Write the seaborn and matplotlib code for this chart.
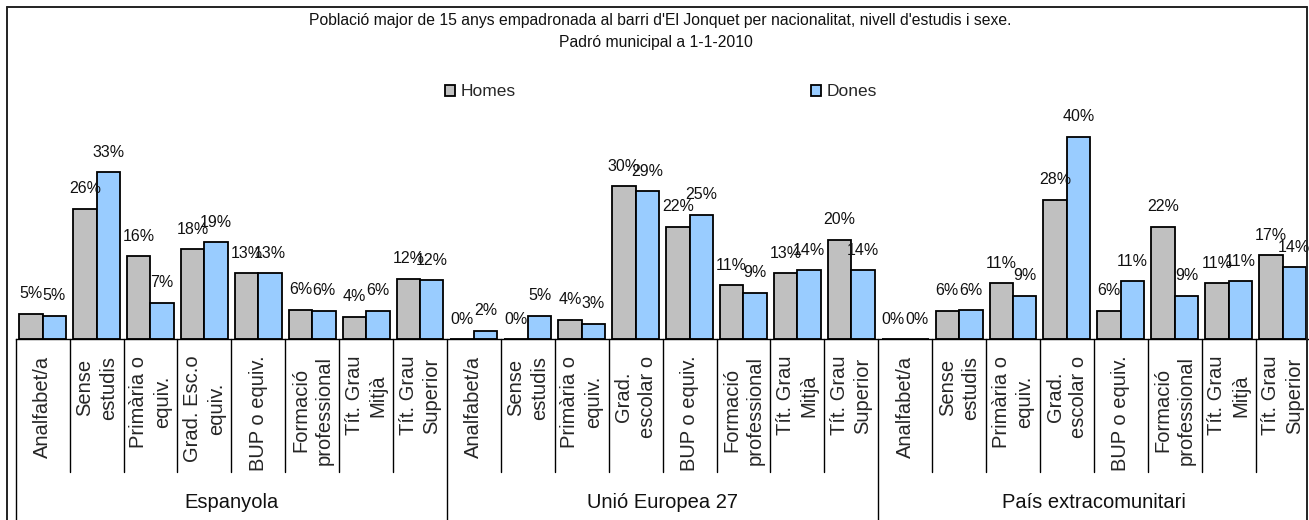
import matplotlib
matplotlib.use("Agg")
import matplotlib.pyplot as plt
import seaborn as sns
import pandas as pd
from matplotlib.lines import Line2D
from matplotlib.transforms import blended_transform_factory

# ---------------- data ----------------
title_lines = ["Població major de 15 anys empadronada al barri d'El Jonquet per nacionalitat, nivell d'estudis i sexe.",
               "Padró municipal a 1-1-2010"]
series = ["Homes", "Dones"]
groups = ["Espanyola", "Unió Europea 27", "País extracomunitari"]
levels_esp = ["Analfabet/a", "Sense\nestudis", "Primària o\nequiv.", "Grad. Esc.o\nequiv.",
              "BUP o equiv.", "Formació\nprofessional", "Tít. Grau\nMitjà", "Tít. Grau\nSuperior"]
levels_other = ["Analfabet/a", "Sense\nestudis", "Primària o\nequiv.", "Grad.\nescolar o",
                "BUP o equiv.", "Formació\nprofessional", "Tít. Grau\nMitjà", "Tít. Grau\nSuperior"]

homes_esp = [5.0, 25.8, 16.4, 17.8, 13.0, 5.8, 4.4, 11.9]
dones_esp = [4.6, 33.0, 7.2, 19.1, 13.0, 5.6, 5.6, 11.6]
homes_ue = [0.0, 0.0, 3.8, 30.2, 22.2, 10.6, 13.0, 19.6]
dones_ue = [1.6, 4.6, 3.0, 29.2, 24.6, 9.2, 13.6, 13.6]
homes_ext = [0.0, 5.6, 11.0, 27.6, 5.6, 22.2, 11.0, 16.6]
dones_ext = [0.0, 5.7, 8.6, 40.0, 11.4, 8.6, 11.4, 14.2]

colors = ["#C0C0C0", "#99CCFF"]

# ---------------- build long table ----------------
group_levels = [levels_esp, levels_other, levels_other]
group_homes = [homes_esp, homes_ue, homes_ext]
group_dones = [dones_esp, dones_ue, dones_ext]
rows = []
keys = []
tick_labels = []
for g, levs, hv, dv in zip(groups, group_levels, group_homes, group_dones):
    for lev, h, d in zip(levs, hv, dv):
        key = f"{g}|{lev}"
        keys.append(key)
        tick_labels.append(lev)
        rows.append({"cat": key, "sexe": series[0], "val": h})
        rows.append({"cat": key, "sexe": series[1], "val": d})
df = pd.DataFrame(rows)

# ---------------- plot ----------------
sns.set_style("white")
plt.rcParams["font.family"] = ["Liberation Sans", "DejaVu Sans"]

W, H = 1309, 520
fig = plt.figure(figsize=(W / 100, H / 100), dpi=100)
ax_left, ax_right = 15.7 / W, 1309.5 / W
ax_bottom, ax_top = (H - 339) / H, (H - 100) / H
ax = fig.add_axes([ax_left, ax_bottom, ax_right - ax_left, ax_top - ax_bottom])

sns.barplot(data=df, x="cat", y="val", hue="sexe", order=keys, hue_order=series,
            palette=colors, width=0.87, edgecolor="black", linewidth=1.3,
            saturation=1, ax=ax, legend=True)

ax.set_xlim(-0.5, len(keys) - 0.5)
ax.set_ylim(0, 47.3)
ax.set_xlabel("")
ax.set_ylabel("")
ax.set_yticks([])
for s in ["left", "right", "top"]:
    ax.spines[s].set_visible(False)
ax.spines["bottom"].set_color("black")
ax.spines["bottom"].set_linewidth(1.0)

# value labels
for cont in ax.containers:
    vals = [b.get_height() for b in cont]
    ax.bar_label(cont, labels=[f"{round(v):d}%" for v in vals], padding=9,
                 fontsize=11.5, color="#111111")

# category tick labels
ax.set_xticks(range(len(keys)))
ax.set_xticklabels(tick_labels, rotation=90, fontsize=14.5, linespacing=1.3,
                   multialignment="center", va="top", ha="center")
ax.tick_params(axis="x", length=0, pad=12)

# separators
trans = blended_transform_factory(ax.transData, ax.transAxes)
ax_h_px = 339 - 100
n_per = len(levels_esp)
for i in range(len(keys) + 1):
    x = i - 0.5
    if i % n_per == 0:
        y0 = -(H - 339 + 5) / ax_h_px
        lw = 1.0
    else:
        y0 = -133 / ax_h_px
        lw = 1.0
    ax.add_line(Line2D([x, x], [0, y0], transform=trans, color="black",
                       linewidth=lw, clip_on=False))

# group labels
for gi, g in enumerate(groups):
    xc = gi * n_per + (n_per - 1) / 2
    ax.text(xc, -(503 - 339) / ax_h_px, g, transform=trans, ha="center", va="center",
            fontsize=14.5, color="#111111")

# legend
handles, labels = ax.get_legend_handles_labels()
ax.get_legend().remove()
fig.legend(handles, labels, loc="center", bbox_to_anchor=(661 / W, (H - 92) / H),
           ncol=2, frameon=False, fontsize=12.5, handlelength=0.6, handleheight=0.6,
           handletextpad=0.3, columnspacing=17.0)

# title
fig.text(660 / W, (H - 20) / H, title_lines[0], ha="center", va="center", fontsize=11.3,
         color="#111111")
fig.text(656 / W, (H - 43) / H, title_lines[1], ha="center", va="center", fontsize=11.3,
         color="#111111")

# figure border (chart area frame)
bx0, bx1, by = 6.5 / W, 1307 / W, (H - 6.5) / H
for xs, ys in [([bx0, bx1], [by, by]), ([bx0, bx0], [by, -0.05]), ([bx1, bx1], [by, -0.05])]:
    fig.add_artist(Line2D(xs, ys, transform=fig.transFigure, color="#222222",
                          linewidth=1.4, clip_on=False))

fig.savefig("out.png", dpi=100)
